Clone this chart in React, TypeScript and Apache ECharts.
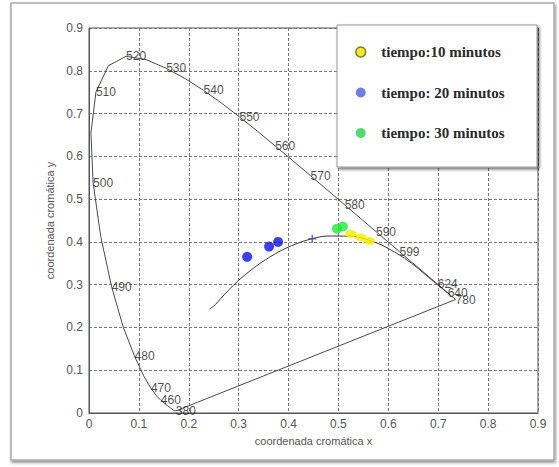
import React, { useEffect, useRef } from "react";
import * as echarts from "echarts";

// CIE 1931 spectral locus (wavelength in nm, chromaticity x, y)
const locusNm = [380, 420, 430, 440, 450, 460, 465, 470, 475, 480, 485, 490, 495, 500, 505, 510, 515, 520, 525, 530, 535, 540, 545, 550, 555, 560, 565, 570, 575, 580, 585, 590, 595, 599, 605, 610, 615, 620, 624, 630, 640, 650, 660, 680, 780];
const locusX = [0.1741, 0.1714, 0.1689, 0.1644, 0.1566, 0.1440, 0.1355, 0.1241, 0.1096, 0.0913, 0.0687, 0.0454, 0.0235, 0.0082, 0.0039, 0.0139, 0.0389, 0.0743, 0.1142, 0.1547, 0.1929, 0.2296, 0.2658, 0.3016, 0.3373, 0.3731, 0.4087, 0.4441, 0.4788, 0.5125, 0.5448, 0.5752, 0.6029, 0.6224, 0.6482, 0.6658, 0.6801, 0.6915, 0.6990, 0.7079, 0.7190, 0.7260, 0.7300, 0.7334, 0.7347];
const locusY = [0.0050, 0.0051, 0.0069, 0.0109, 0.0177, 0.0297, 0.0399, 0.0578, 0.0868, 0.1327, 0.2007, 0.2950, 0.4127, 0.5384, 0.6548, 0.7502, 0.8120, 0.8338, 0.8262, 0.8059, 0.7816, 0.7543, 0.7243, 0.6923, 0.6589, 0.6245, 0.5896, 0.5547, 0.5202, 0.4866, 0.4544, 0.4242, 0.3965, 0.3772, 0.3514, 0.3340, 0.3197, 0.3083, 0.3010, 0.2920, 0.2809, 0.2740, 0.2700, 0.2666, 0.2653];

// wavelengths written next to the locus
const labelNm = [380, 460, 470, 480, 490, 500, 510, 520, 530, 540, 550, 560, 570, 580, 590, 599, 624, 640, 780];

// Planckian (black body) locus
const planckX = [0.242, 0.2531, 0.2637, 0.2807, 0.2951, 0.3135, 0.3451, 0.3805, 0.4053, 0.4369, 0.4770, 0.5267, 0.5497, 0.5857, 0.6251, 0.6528, 0.6900, 0.7230];
const planckY = [0.243, 0.2531, 0.2673, 0.2883, 0.3050, 0.3237, 0.3516, 0.3768, 0.3907, 0.4041, 0.4137, 0.4133, 0.4083, 0.3931, 0.3674, 0.3444, 0.3080, 0.2770];

// illuminant A reference point
const illumA = [0.4476, 0.4074];

// measured samples
const t10X = [0.525, 0.545, 0.562];
const t10Y = [0.419, 0.411, 0.402];
const t20X = [0.317, 0.361, 0.379];
const t20Y = [0.365, 0.389, 0.400];
const t30X = [0.497, 0.509];
const t30Y = [0.431, 0.436];

const seriesNames = ["tiempo:10 minutos", "tiempo: 20 minutos", "tiempo: 30 minutos"];

const zip = (xs: number[], ys: number[]) => xs.map((x, i) => [x, ys[i]]);

export default function App() {
  const ref = useRef<HTMLDivElement>(null);

  useEffect(() => {
    if (!ref.current) return;
    const chart = echarts.init(ref.current, null, { renderer: "svg" });

    const locus = zip(locusX, locusY);
    const closedLocus = [...locus, locus[0]];
    const labelPts = labelNm.map((nm) => {
      const i = locusNm.indexOf(nm);
      return [locusX[i], locusY[i], nm];
    });

    const axisCommon = {
      type: "value" as const,
      min: 0,
      max: 0.9,
      interval: 0.1,
      axisLine: { show: true, lineStyle: { color: "#555", width: 1 } },
      axisTick: { show: false },
      axisLabel: {
        color: "#555",
        fontSize: 12,
        fontFamily: "Liberation Sans, Arial, sans-serif",
        formatter: (v: number) => (v === 0 ? "0" : v.toFixed(1)),
      },
      splitLine: { show: true, lineStyle: { color: "#777", type: [3, 2], width: 1 } },
      nameLocation: "middle" as const,
      nameTextStyle: { color: "#555", fontSize: 11, fontFamily: "Liberation Sans, Arial, sans-serif" },
    };

    chart.setOption({
      animation: false,
      backgroundColor: "#fff",
      grid: { left: 89, right: 21, top: 28, bottom: 54, show: true, borderColor: "#555", borderWidth: 1, backgroundColor: "transparent" },
      xAxis: { ...axisCommon, name: "coordenada cromática x", nameGap: 22, axisLabel: { ...axisCommon.axisLabel, margin: 5 } },
      yAxis: { ...axisCommon, name: "coordenada cromática y", nameGap: 33, axisLabel: { ...axisCommon.axisLabel, margin: 6 } },
      graphic: [
        {
          type: "rect",
          z: -10,
          shape: { x: 11, y: 3, width: 543, height: 457 },
          style: { fill: "#fff", stroke: "#aaa", lineWidth: 1.5, shadowColor: "rgba(0,0,0,0.45)", shadowBlur: 3, shadowOffsetX: 1, shadowOffsetY: 2 },
          silent: true,
        },
        {
          type: "rect",
          z: 50,
          shape: { x: 337, y: 25, width: 200, height: 142 },
          style: { fill: "#fff", stroke: "#999", lineWidth: 1, shadowColor: "rgba(0,0,0,0.55)", shadowBlur: 3, shadowOffsetX: 2, shadowOffsetY: 2 },
          silent: true,
        },
      ],
      legend: {
        orient: "vertical",
        left: 337,
        top: 25,
        padding: [19, 10, 10, 18],
        itemWidth: 13,
        itemHeight: 10,
        itemGap: 24.5,
        z: 60,
        symbolKeepAspect: false,
        selectedMode: false,
        textStyle: {
          fontFamily: "Liberation Serif, Times New Roman, serif",
          fontWeight: "bold",
          fontSize: 15,
          lineHeight: 16,
          color: "#2a2a2a",
          padding: [0, 0, 0, 9],
        },
        data: [
          { name: seriesNames[0], icon: "circle", itemStyle: { color: "#f2e600", borderColor: "#6b6420", borderWidth: 1.5 } },
          { name: seriesNames[1], icon: "circle", itemStyle: { color: "#4a5be0", borderColor: "#4a5be0", borderWidth: 0 } },
          { name: seriesNames[2], icon: "circle", itemStyle: { color: "#22d04a", borderColor: "#22d04a", borderWidth: 0 } },
        ],
      },
      series: [
        {
          name: "locus",
          type: "line",
          data: closedLocus,
          showSymbol: false,
          symbol: "none",
          lineStyle: { color: "#4a4a4a", width: 1 },
          silent: true,
          z: 2,
        },
        {
          name: "planck",
          type: "line",
          data: zip(planckX, planckY),
          showSymbol: false,
          symbol: "none",
          smooth: 0.3,
          lineStyle: { color: "#3a3a3a", width: 1 },
          silent: true,
          z: 2,
        },
        {
          name: "nm",
          type: "scatter",
          data: labelPts,
          symbolSize: 0,
          silent: true,
          z: 3,
          label: {
            show: true,
            position: "right",
            distance: 0,
            fontSize: 12,
            fontFamily: "Liberation Sans, Arial, sans-serif",
            color: "#1a1a1a",
            formatter: (p: any) => String(p.value[2]),
          },
        },
        {
          name: "A",
          type: "scatter",
          data: [illumA],
          symbol: "path://M0,5L10,5M5,0L5,10",
          symbolSize: 8,
          itemStyle: { color: "none", borderColor: "#3344cc", borderWidth: 1.5 },
          silent: true,
          z: 4,
        },
        {
          name: seriesNames[0],
          type: "scatter",
          data: zip(t10X, t10Y),
          symbolSize: [11, 8],
          itemStyle: { color: "#f5f000", opacity: 0.85 },
          z: 5,
        },
        {
          name: seriesNames[1],
          type: "scatter",
          data: zip(t20X, t20Y),
          symbolSize: 10,
          itemStyle: { color: "#0a10e8" },
          z: 5,
        },
        {
          name: seriesNames[2],
          type: "scatter",
          data: zip(t30X, t30Y),
          symbolSize: 10,
          itemStyle: { color: "#1ee83a" },
          z: 5,
        },
      ],
    });

    return () => chart.dispose();
  }, []);

  return (
    <div
      ref={ref}
      style={{ position: "fixed", left: 0, top: 0, width: 559, height: 467, background: "#fff" }}
    />
  );
}
